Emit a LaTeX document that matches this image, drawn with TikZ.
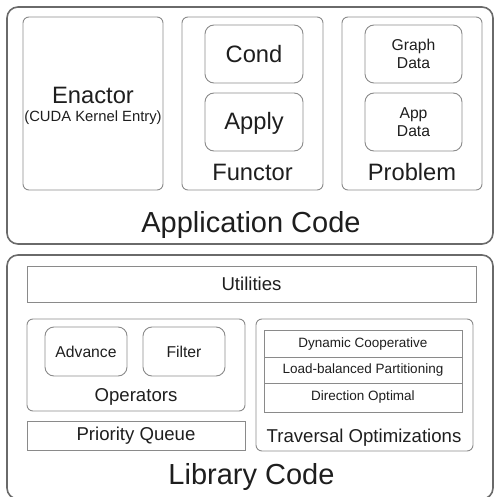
\documentclass[tikz,border=0pt]{standalone}
\usepackage{fontspec}
\setmainfont{Liberation Sans}
\definecolor{txt}{HTML}{1E1E1E}
\definecolor{edge}{HTML}{8A8A8A}
\definecolor{outer}{HTML}{6A6A6A}
\begin{document}
\begin{tikzpicture}[x=1pt,y=-1pt,
  outerbox/.style={draw=outer,line width=1.6pt,rounded corners=11pt},
  groupbox/.style={draw=edge,line width=0.9pt,rounded corners=6pt},
  itembox/.style={draw=edge,line width=0.9pt,rounded corners=9pt},
  flatbox/.style={draw=edge,line width=0.9pt},
  lbl/.style={text=txt,inner sep=0pt,align=center},
  big/.style={lbl,font=\fontsize{29}{32}\selectfont},
  mid/.style={lbl,font=\fontsize{23.7}{26}\selectfont},
  sml/.style={lbl,font=\fontsize{18.6}{21}\selectfont},
  tiny/.style={lbl,font=\fontsize{15.7}{18}\selectfont},
  mini/.style={lbl,font=\fontsize{13.5}{16}\selectfont}]
\useasboundingbox (0,0) rectangle (494,497);
% Application code
\draw[outerbox] (7,7) rectangle (493,244);
\draw[groupbox] (23,17) rectangle (163,190);
\draw[groupbox] (182,17) rectangle (323,190);
\draw[itembox] (205,25) rectangle (303,83);
\draw[itembox] (205,93) rectangle (303,151);
\draw[groupbox] (342,17) rectangle (482,190);
\draw[itembox] (365,25) rectangle (462,83);
\draw[itembox] (365,93) rectangle (462,151);
\node[mid] (enactor) at (93,95) {Enactor};
\node[lbl,font=\fontsize{14.8}{17}\selectfont] (cuda) at (93,118) {(CUDA Kernel Entry)};
\node[mid] (cond) at (254,54) {Cond};
\node[mid] (apply) at (254,123) {Apply};
\node[mid] (functor) at (252.5,172) {Functor};
\node[tiny] (graph) at (413.5,54) {Graph\\Data};
\node[tiny] (appdata) at (413.5,122) {App\\Data};
\node[mid] (problem) at (412,172) {Problem};
\node[big] (appcode) at (251,225) {Application Code};
% Library code
\draw[outerbox] (7,255) rectangle (493,499);
\draw[flatbox] (27,266) rectangle (476,302);
\node[sml] (util) at (251.5,284) {Utilities};
\draw[groupbox] (27,319) rectangle (245,411);
\draw[itembox] (45,327) rectangle (127,376);
\draw[itembox] (143,327) rectangle (225,376);
\node[tiny] (adv) at (86,351.5) {Advance};
\node[tiny] (filt) at (184,351.5) {Filter};
\node[sml] (ops) at (136,397) {Operators};
\draw[flatbox] (27,421) rectangle (245,450);
\node[sml] (pq) at (136,436) {Priority Queue};
\draw[groupbox] (256,319) rectangle (473,451);
\draw[flatbox] (264,330) rectangle (462,412);
\draw[flatbox] (264,357) -- (462,357);
\draw[flatbox] (264,383) -- (462,383);
\node[mini] (dyn) at (363,344) {Dynamic Cooperative};
\node[mini] (lbp) at (363,370.5) {Load-balanced Partitioning};
\node[mini] (dir) at (363,397.5) {Direction Optimal};
\node[sml] (trav) at (364,438) {Traversal Optimizations};
\node[big] (libcode) at (251.5,477) {Library Code};
\end{tikzpicture}
\end{document}
